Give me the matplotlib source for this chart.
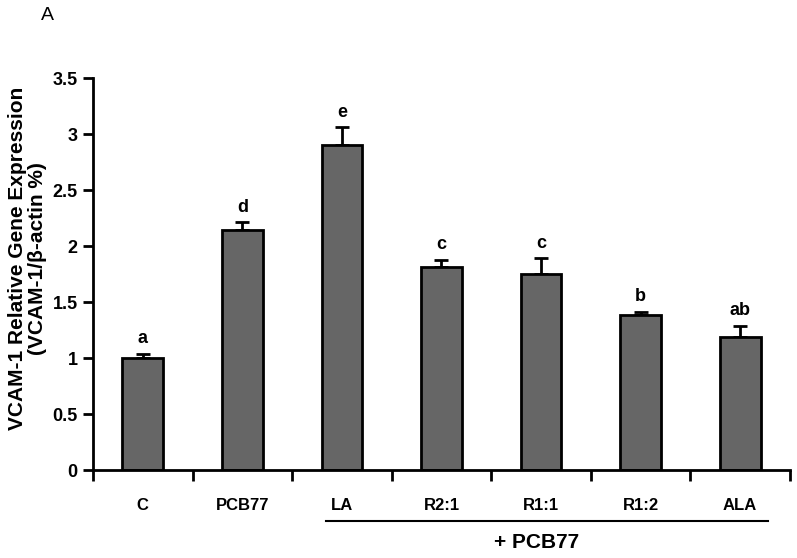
import numpy as np
import matplotlib.pyplot as plt
from matplotlib.lines import Line2D

plt.rcParams['font.family'] = ['Liberation Sans', 'DejaVu Sans']

groups = ["C", "PCB77", "LA", "R2:1", "R1:1", "R1:2", "ALA"]
means = [1.00, 2.14, 2.90, 1.81, 1.75, 1.38, 1.19]
errs = [0.04, 0.07, 0.16, 0.065, 0.14, 0.03, 0.10]
letters = ["a", "d", "e", "c", "c", "b", "ab"]

fig = plt.figure(figsize=(7.97, 5.58), dpi=100)
ax = fig.add_axes([0.1167, 0.1577, 0.8745, 0.7025])

x = np.arange(len(groups))
ax.bar(x, means, width=0.41, color="#666666", edgecolor="black", linewidth=2, zorder=2)
ax.errorbar(x, means, yerr=[np.zeros(len(errs)), errs], fmt="none", ecolor="black",
            elinewidth=2, capsize=5, capthick=2, zorder=1)

for xi, m, e, lab in zip(x, means, errs, letters):
    ax.text(xi, m + e + 0.06, lab, ha="center", va="bottom", fontsize=13, fontweight="bold")

ax.set_xlim(-0.5, 6.5)
ax.set_ylim(0, 3.5)
ax.set_yticks(np.arange(0, 3.51, 0.5))
ax.set_yticklabels(["0", "0.5", "1", "1.5", "2", "2.5", "3", "3.5"], fontsize=13, fontweight="bold")
ax.set_xticks(np.arange(-0.5, 6.6, 1))
ax.set_xticklabels([])
ax.set_xticks(x, minor=True)
ax.set_xticklabels(groups, minor=True, fontsize=12, fontweight="bold")
ax.tick_params(axis="x", which="major", length=8, width=2, direction="out")
ax.tick_params(axis="x", which="minor", length=0, pad=20)
ax.tick_params(axis="y", length=7, width=2, direction="out", pad=4)

for s in ["top", "right"]:
    ax.spines[s].set_visible(False)
for s in ["left", "bottom"]:
    ax.spines[s].set_linewidth(2)

ax.set_ylabel("VCAM-1 Relative Gene Expression\n(VCAM-1/β-actin %)", fontsize=15,
              fontweight="bold", linespacing=1.05)
ax.yaxis.set_label_coords(-0.066, 0.54)

# bracket line under the PCB77-treated groups
fig.add_artist(Line2D([326 / 797, 768 / 797], [1 - 521 / 558, 1 - 521 / 558],
                      color="black", linewidth=1.5))
fig.text(537 / 797, 1 - 543 / 558, "+ PCB77", ha="center", va="center",
         fontsize=15, fontweight="bold")
fig.text(47 / 797, 1 - 15 / 558, "A", ha="center", va="center", fontsize=14)

fig.savefig("out.png", dpi=100)
